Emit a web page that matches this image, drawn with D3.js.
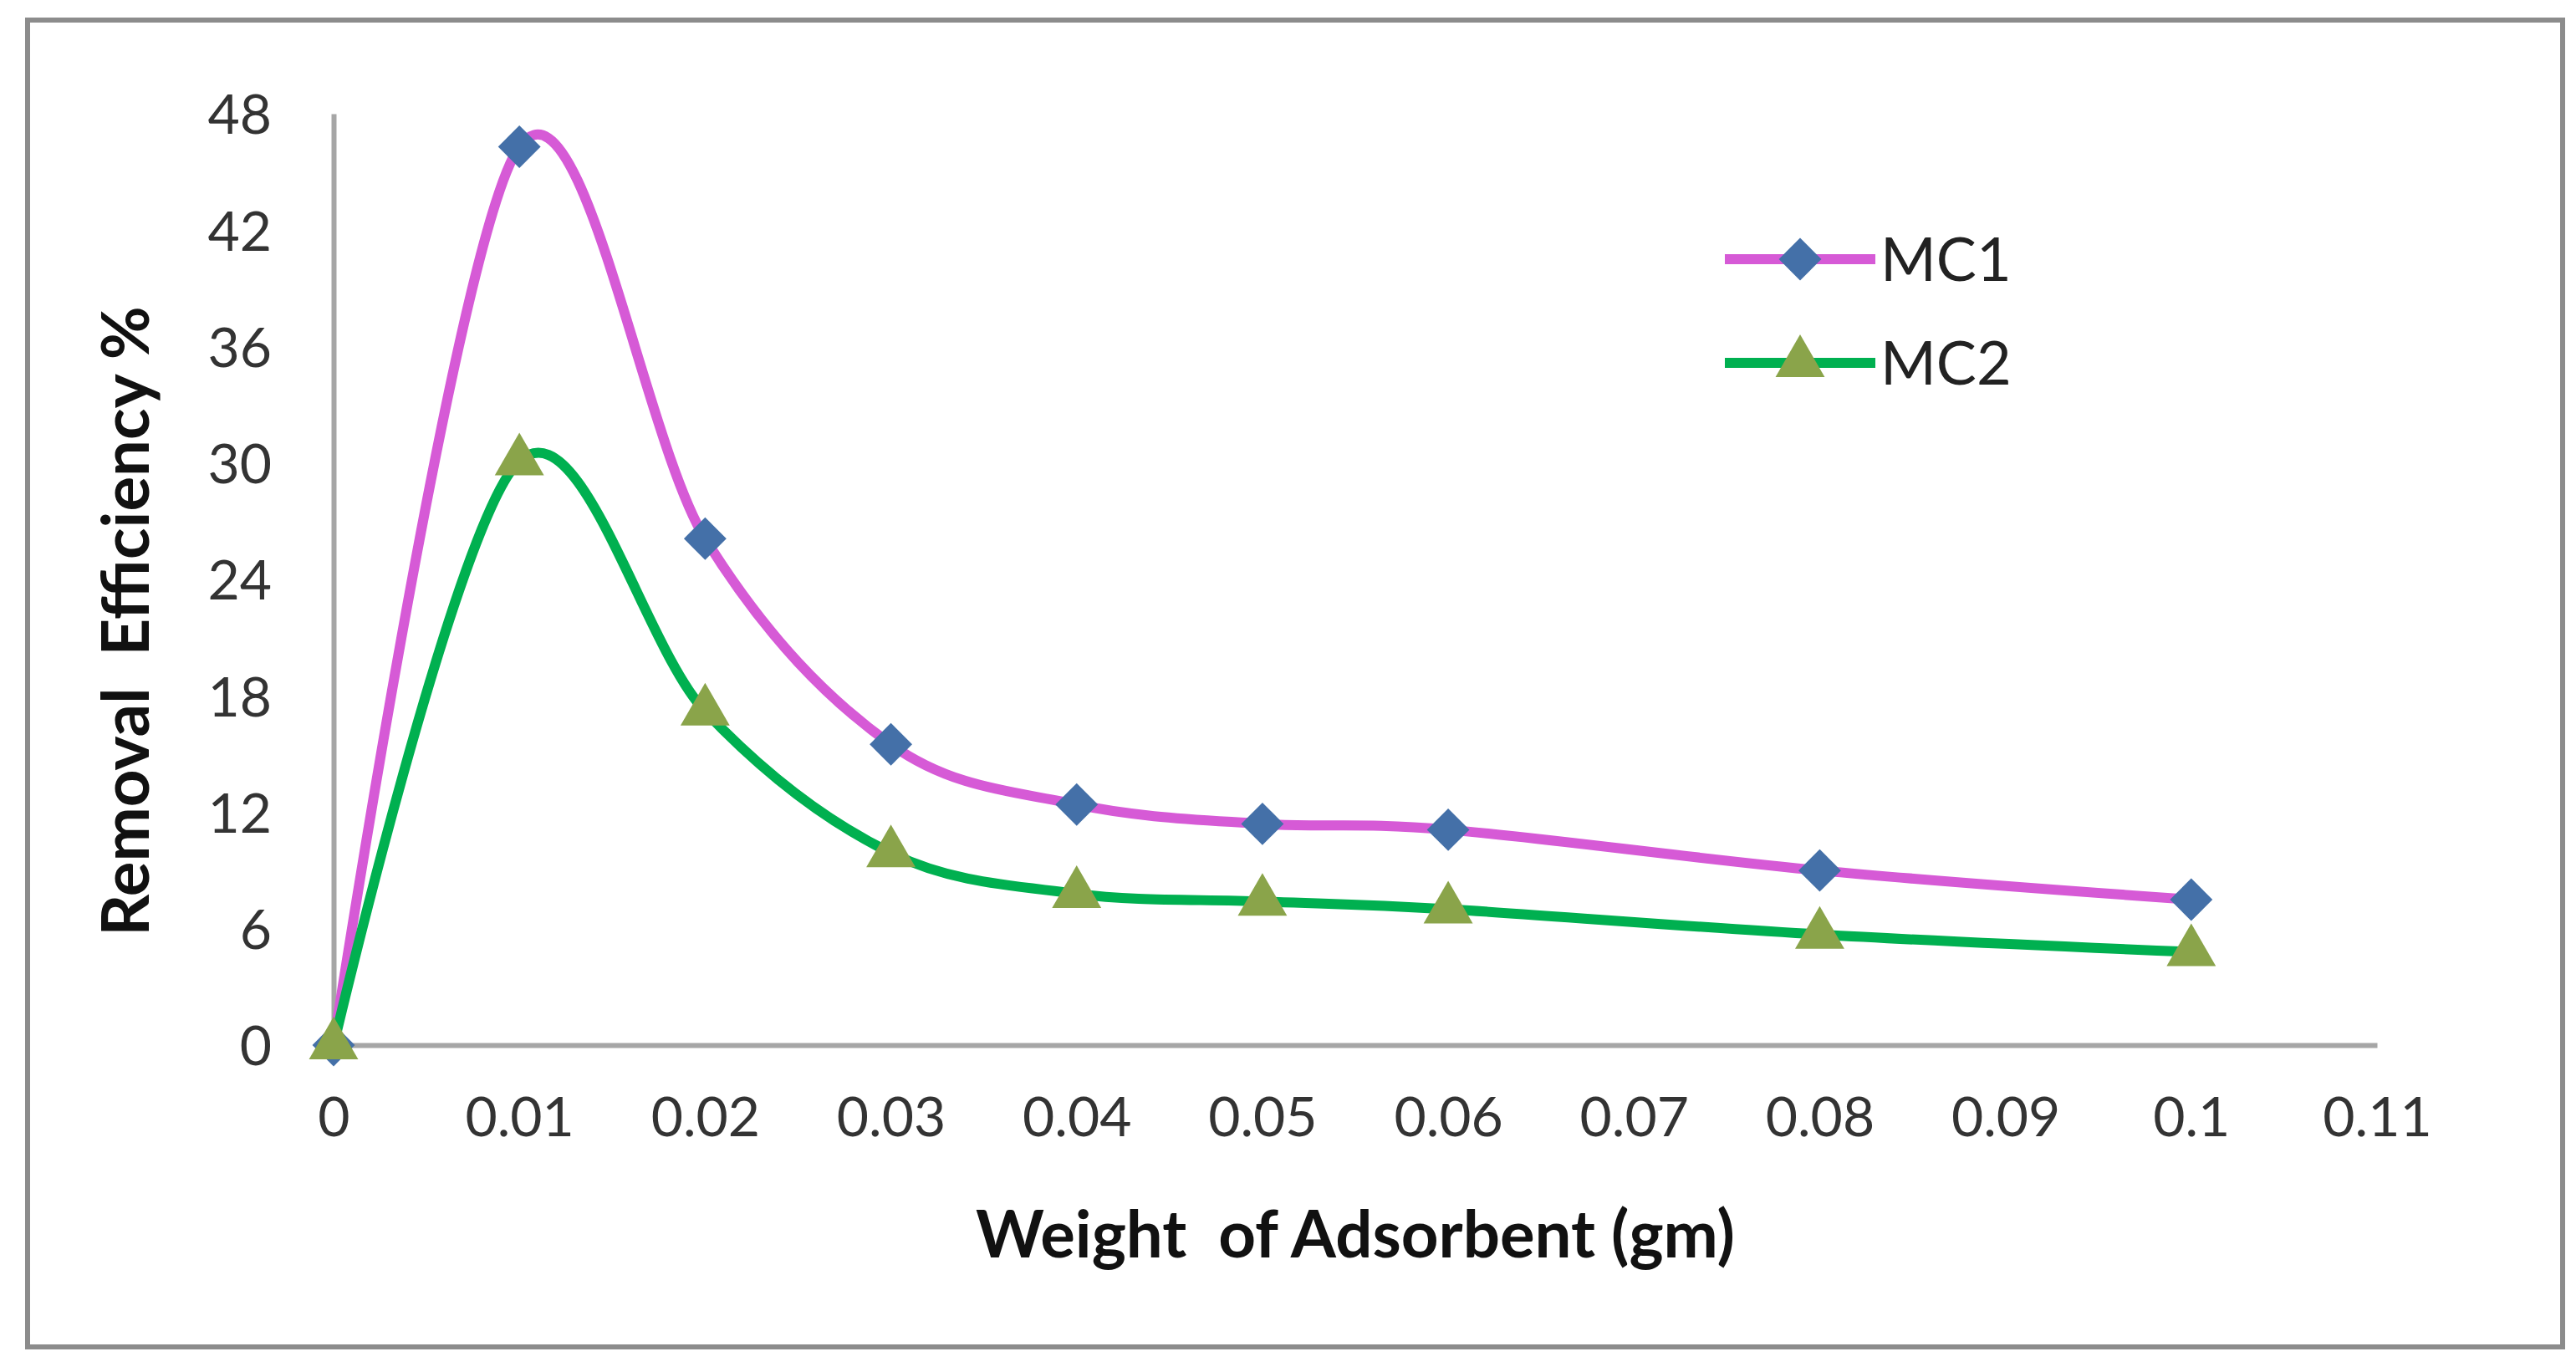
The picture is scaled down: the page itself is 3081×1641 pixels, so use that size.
<!DOCTYPE html>
<html>
<head>
<meta charset="utf-8">
<script src="https://cdn.jsdelivr.net/npm/d3@7"></script>
<style>
  body { margin: 0; background: #fff; }
  svg { display: block; }
</style>
</head>
<body>
<div id="chart"></div>
<script>
// Datos
const weights = [0, 0.01, 0.02, 0.03, 0.04, 0.05, 0.06, 0.08, 0.1];
const mc1 = [0, 46.3, 26.1, 15.5, 12.4, 11.4, 11.1, 9.0, 7.5];
const mc2 = [0, 30.1, 17.2, 9.9, 7.8, 7.4, 7.0, 5.7, 4.8];
const xTicks = [0, 0.01, 0.02, 0.03, 0.04, 0.05, 0.06, 0.07, 0.08, 0.09, 0.1, 0.11];
const yTicks = [0, 6, 12, 18, 24, 30, 36, 42, 48];

const width = 3081;
const height = 1641;
const font = "Lato, 'Open Sans', sans-serif";

const svg = d3.select("#chart")
  .append("svg")
  .attr("width", width)
  .attr("height", height);

// Marco exterior
svg.append("rect")
  .attr("x", 33).attr("y", 24)
  .attr("width", 3032).attr("height", 1587)
  .attr("fill", "#fff")
  .attr("stroke", "#8c8c8c")
  .attr("stroke-width", 6);

const x = d3.scaleLinear().domain([0, 0.11]).range([399, 2843]);
const y = d3.scaleLinear().domain([0, 48]).range([1250, 136]);

// Ejes
const xAxis = svg.append("g")
  .attr("transform", `translate(0, ${y(0)})`)
  .call(d3.axisBottom(x).tickValues(xTicks).tickSize(0).tickPadding(62)
    .tickFormat(d => d3.format("~g")(d)));
xAxis.select(".domain").attr("stroke", "#a6a6a6").attr("stroke-width", 6);
xAxis.selectAll("text")
  .attr("font-family", font).attr("font-size", 66).attr("fill", "#333");

const yAxis = svg.append("g")
  .attr("transform", `translate(${x(0)}, 0)`)
  .call(d3.axisLeft(y).tickValues(yTicks).tickSize(0).tickPadding(74));
yAxis.select(".domain").attr("stroke", "#a6a6a6").attr("stroke-width", 6);
yAxis.selectAll("text")
  .attr("font-family", font).attr("font-size", 66).attr("fill", "#333");
yAxis.selectAll(".tick text").attr("dy", "0.36em");

// Títulos de ejes
svg.append("text")
  .attr("x", 1621).attr("y", 1504)
  .attr("text-anchor", "middle")
  .attr("font-family", font).attr("font-size", 78).attr("font-weight", "bold")
  .attr("fill", "#111")
  .attr("xml:space", "preserve")
  .text("Weight  of Adsorbent (gm)");

svg.append("text")
  .attr("transform", `translate(178, 743) rotate(-90)`)
  .attr("text-anchor", "middle")
  .attr("font-family", font).attr("font-size", 78).attr("font-weight", "bold")
  .attr("fill", "#111")
  .attr("xml:space", "preserve")
  .text("Removal  Efficiency %");

const series = [
  { name: "MC1", values: mc1, line: "#d65ad6", marker: "#4470a8", symbol: d3.symbolDiamond2, size: 1650 },
  { name: "MC2", values: mc2, line: "#00b050", marker: "#8aa44a", symbol: d3.symbolTriangle, size: 1500 },
];

const line = d3.line()
  .x(d => x(d[0]))
  .y(d => y(d[1]))
  .curve(d3.curveCardinal.tension(0));

series.forEach(s => {
  const pts = weights.map((w, i) => [w, s.values[i]]);
  svg.append("path")
    .datum(pts)
    .attr("d", line)
    .attr("fill", "none")
    .attr("stroke", s.line)
    .attr("stroke-width", 12);

  svg.append("g").selectAll("path")
    .data(pts)
    .join("path")
    .attr("transform", d => `translate(${x(d[0])}, ${y(d[1])})`)
    .attr("d", d3.symbol().type(s.symbol).size(s.size))
    .attr("fill", s.marker);
});

// Leyenda
const legend = svg.append("g").attr("transform", "translate(2063, 0)");
series.forEach((s, i) => {
  const ly = 310 + i * 124;
  legend.append("line")
    .attr("x1", 0).attr("x2", 180)
    .attr("y1", ly).attr("y2", ly)
    .attr("stroke", s.line).attr("stroke-width", 12);
  legend.append("path")
    .attr("transform", `translate(90, ${ly})`)
    .attr("d", d3.symbol().type(s.symbol).size(s.size))
    .attr("fill", s.marker);
  legend.append("text")
    .attr("x", 186).attr("y", ly)
    .attr("dy", "0.36em")
    .attr("font-family", font).attr("font-size", 72)
    .attr("fill", "#222")
    .text(s.name);
});
</script>
</body>
</html>
